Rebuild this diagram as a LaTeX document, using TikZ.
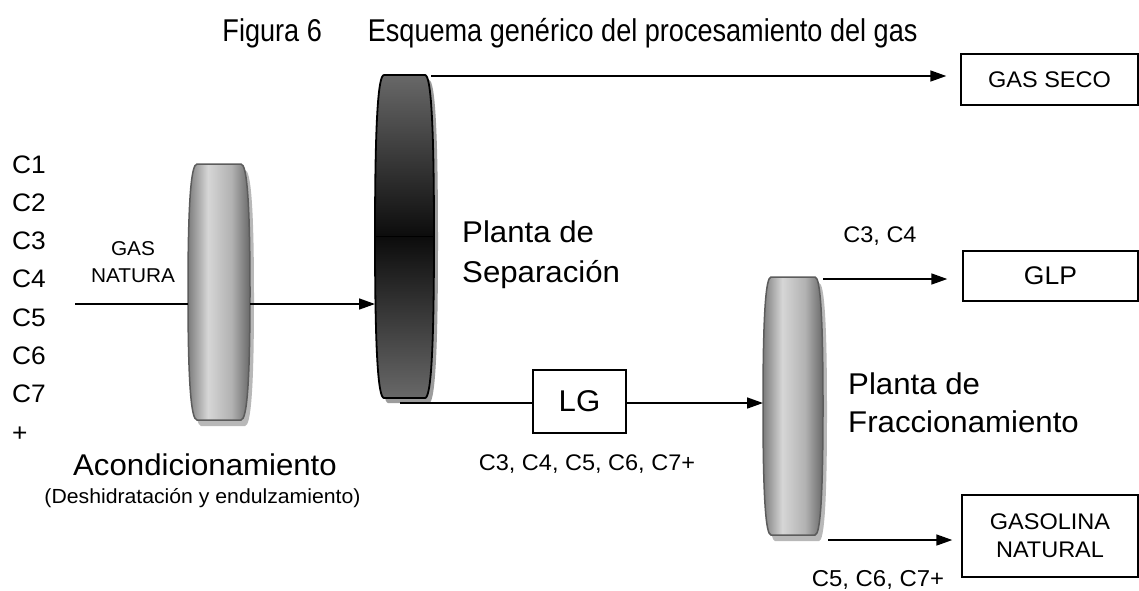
\documentclass[tikz,border=0pt]{standalone}
\usepackage{fontspec}
\setmainfont{Liberation Sans}[FakeStretch=1.04]
\newfontfamily\titlefont{Liberation Sans}[FakeStretch=0.86]
\usetikzlibrary{arrows.meta,calc}
\definecolor{lcA}{HTML}{7C7C7C}
\definecolor{lcB}{HTML}{D6D6D6}
\definecolor{lcC}{HTML}{B2B2B2}
\definecolor{lcD}{HTML}{686868}
\definecolor{dA}{HTML}{686868}
\definecolor{dB}{HTML}{0C0C0C}
\definecolor{shadowlight}{HTML}{B8B8B8}
\definecolor{shadowdark}{HTML}{9C9C9C}
\definecolor{lightborder}{HTML}{5C5C5C}
\pgfdeclarehorizontalshading{lightcyl}{100bp}{color(0bp)=(lcA); color(25bp)=(lcA); color(41bp)=(lcB); color(60bp)=(lcC); color(75bp)=(lcD); color(100bp)=(lcD)}
\pgfdeclareverticalshading{darkcyl}{100bp}{color(0bp)=(dA); color(25bp)=(dA); color(50bp)=(dB); color(75bp)=(dA); color(100bp)=(dA)}
% xl xr yt yb inset
\newcommand{\cylshape}[5]{({#1+#5},#3) -- ({#2-#5},#3)
  .. controls ({#2-#5/3},#3) and (#2,{#3+0.15*(#4-#3)}) .. (#2,{(#3+#4)/2})
  .. controls (#2,{#4-0.15*(#4-#3)}) and ({#2-#5/3},#4) .. ({#2-#5},#4)
  -- ({#1+#5},#4)
  .. controls ({#1+#5/3},#4) and (#1,{#4-0.15*(#4-#3)}) .. (#1,{(#3+#4)/2})
  .. controls (#1,{#3+0.15*(#4-#3)}) and ({#1+#5/3},#3) .. ({#1+#5},#3) -- cycle}
\begin{document}
\begin{tikzpicture}[x=1pt,y=-1pt,
  conn/.style={line width=1.6pt,line cap=butt},
  arr/.style={conn,-{Triangle[length=16pt,width=11pt]}},
  outbox/.style={draw,line width=1.4pt,inner sep=0pt,align=center},
  f24/.style={font=\fontsize{25.3}{28}\selectfont},
  f19/.style={font=\fontsize{20}{28}\selectfont},
  f21/.style={font=\fontsize{22.6}{28}\selectfont},
  f28/.style={font=\fontsize{30}{34}\selectfont},
  lab/.style={inner sep=0pt}]
\useasboundingbox (0,0) rectangle (1139,590);
\fill[white] (0,0) rectangle (1139,590);

% title
\node[lab,anchor=base,font=\titlefont\fontsize{31.5}{36}\selectfont] (title) at (570,41)
  {Figura 6\hspace{46pt}Esquema genérico del procesamiento del gas};

% input components
\foreach \t [count=\i] in {C1,C2,C3,C4,C5,C6,C7,+}
  \node[lab,f24,anchor=base west] (c\i) at (12,{173+38.3*(\i-1)}) {\t};

% cylinder 1 (acondicionamiento)
\fill[shadowlight,shift={(4,6)}] \cylshape{188}{250}{164}{420}{9};
\shadedraw[shading=lightcyl,draw=lightborder,line width=1.5pt] \cylshape{188}{250}{164}{420}{9};
% cylinder 2 (separacion)
\fill[shadowdark,shift={(4,5)}] \cylshape{375}{434}{75}{398}{9};
\shadedraw[shading=darkcyl,draw=black,line width=1.8pt] \cylshape{375}{434}{75}{398}{9};
\draw[black,line width=0.8pt] (376,236.5) -- (433,236.5);
% cylinder 3 (fraccionamiento)
\fill[shadowlight,shift={(4,6)}] \cylshape{763}{823}{277}{535}{8};
\shadedraw[shading=lightcyl,draw=lightborder,line width=1.5pt] \cylshape{763}{823}{277}{535}{8};

% connection points
\coordinate (in) at (75,304);
\coordinate (c1L) at (188,304);
\coordinate (c1R) at (250,304);
\coordinate (c2L) at (375,304);
\coordinate (c2T) at (431,76);
\coordinate (c2B) at (400,403);
\coordinate (c3L) at (763,403);
\coordinate (c3T) at (823,279);
\coordinate (c3B) at (828,540);

% boxes
\node[outbox,f21,minimum width=177pt,minimum height=51pt] (gasseco) at (1049.5,79.5) {GAS SECO};
\node[outbox,font=\fontsize{25.5}{28}\selectfont,minimum width=175pt,minimum height=50pt] (glp) at (1050.5,276) {GLP};
\node[outbox,f21,minimum width=176pt,minimum height=82pt] (gasolina) at (1050,536) {GASOLINA\\NATURAL};
\node[outbox,f28,minimum width=93pt,minimum height=63pt] (lg) at (579.5,401.5) {LG};

% connectors
\draw[conn] (in) -- (c1L);
\draw[arr] (c1R) -- (c2L);
\draw[arr,shorten >=14pt] (c2T) -- (c2T -| gasseco.west);
\draw[conn] (c2B) -- (c2B -| lg.west);
\draw[arr] (c2B -| lg.east) -- (c3L);
\draw[arr,shorten >=15pt] (c3T) -- (c3T -| glp.west);
\draw[arr,shorten >=9pt] (c3B) -- (c3B -| gasolina.west);

% labels
\node[lab,f19,anchor=base] (gn1) at (133,255) {GAS};
\node[lab,f19,anchor=base] (gn2) at (133,282) {NATURA};
\node[lab,f28,anchor=base west] (ps1) at (462,242.5) {Planta de};
\node[lab,f28,anchor=base west] (ps2) at (462,282.5) {Separación};
\node[lab,f28,anchor=base west] (pf1) at (848,394.5) {Planta de};
\node[lab,f28,anchor=base west] (pf2) at (848,432.5) {Fraccionamiento};
\node[lab,f28,anchor=base] (acond) at (205,475.5) {Acondicionamiento};
\node[lab,font=\fontsize{20.4}{24}\selectfont,anchor=base] (desh) at (202.5,503) {(Deshidratación y endulzamiento)};
\node[lab,f21,anchor=base] (l34) at (880,242) {C3, C4};
\node[lab,f21,anchor=base] (lall) at (587,470) {C3, C4, C5, C6, C7+};
\node[lab,font=\fontsize{23}{26}\selectfont,anchor=base] (l567) at (878,586) {C5, C6, C7+};
\end{tikzpicture}
\end{document}
